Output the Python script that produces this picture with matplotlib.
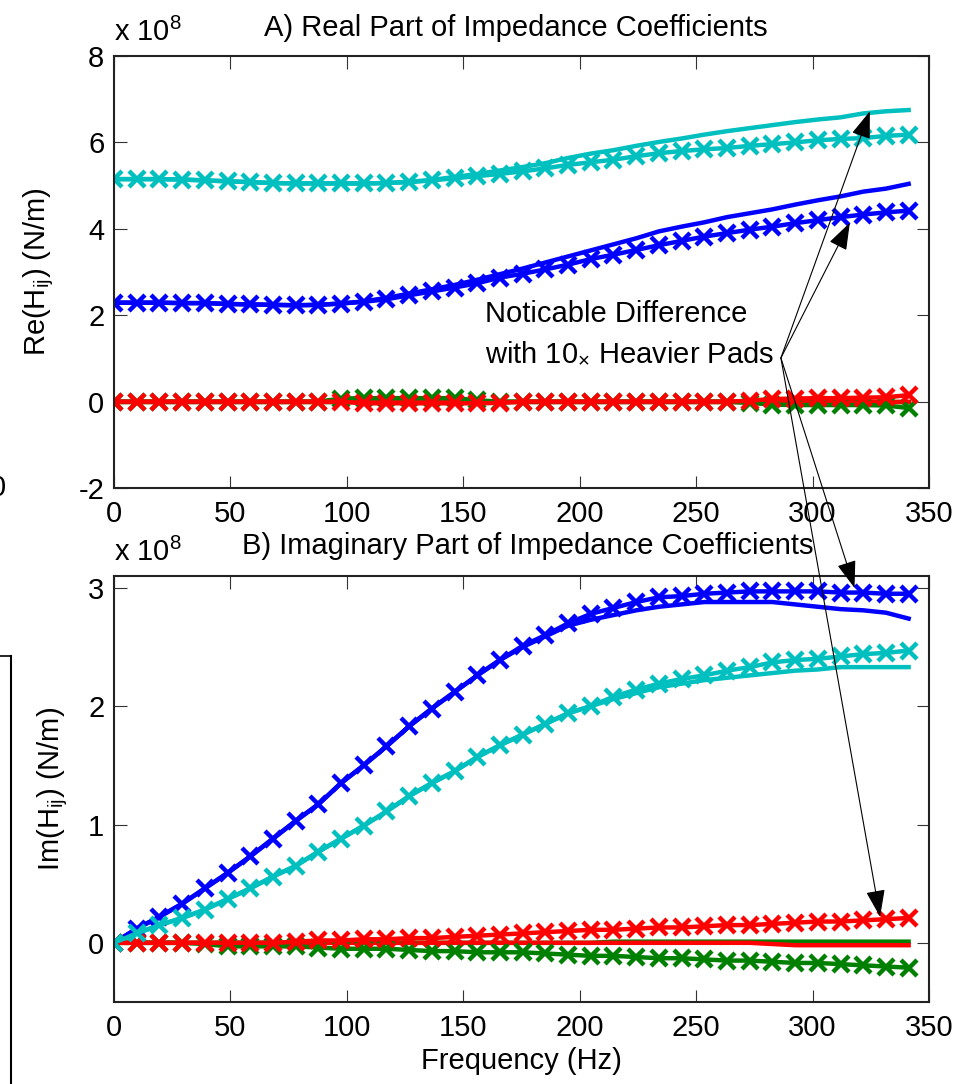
import matplotlib
matplotlib.use("Agg")
import matplotlib.pyplot as plt
from matplotlib.patches import ConnectionPatch
from matplotlib.lines import Line2D

plt.rcParams['font.family'] = ['Liberation Sans', 'DejaVu Sans']
plt.rcParams['mathtext.fontset'] = 'custom'
plt.rcParams['mathtext.rm'] = 'Liberation Sans'
plt.rcParams['mathtext.it'] = 'Liberation Sans'
plt.rcParams['axes.unicode_minus'] = False

# Frequency grid (Hz)
freq = [0, 9.75, 19.5, 29.25, 39, 48.75, 58.5, 68.25, 78, 87.75, 97.5, 107.25,
        117, 126.75, 136.5, 146.25, 156, 165.75, 175.5, 185.25, 195, 204.75,
        214.5, 224.25, 234, 243.75, 253.5, 263.25, 273, 282.75, 292.5, 302.25,
        312, 321.75, 331.5, 341.25]

# Real part (x 1e8 N/m) - baseline pads (solid)
re_blue = [2.29, 2.29, 2.29, 2.28, 2.28, 2.26, 2.25, 2.24, 2.23, 2.24, 2.27, 2.32,
           2.40, 2.50, 2.60, 2.70, 2.82, 2.95, 3.08, 3.22, 3.36, 3.50, 3.64, 3.78,
           3.94, 4.05, 4.15, 4.27, 4.36, 4.45, 4.56, 4.66, 4.75, 4.86, 4.93, 5.04]
re_green = [0.0] * 36
re_red = [0.0] * 36
re_cyan = [5.15, 5.15, 5.15, 5.14, 5.12, 5.10, 5.08, 5.06, 5.05, 5.05, 5.05, 5.05,
           5.06, 5.09, 5.13, 5.20, 5.27, 5.35, 5.43, 5.52, 5.64, 5.74, 5.82, 5.92,
           6.01, 6.09, 6.18, 6.26, 6.33, 6.40, 6.47, 6.53, 6.58, 6.67, 6.72, 6.75]

# Real part - 10x heavier pads (marked)
re_blue_h = [2.29, 2.29, 2.29, 2.28, 2.28, 2.26, 2.25, 2.24, 2.23, 2.24, 2.27, 2.31,
             2.37, 2.46, 2.55, 2.64, 2.74, 2.87, 2.96, 3.06, 3.17, 3.30, 3.40, 3.51,
             3.62, 3.72, 3.82, 3.90, 3.98, 4.05, 4.13, 4.20, 4.27, 4.33, 4.38, 4.42]
re_green_h = [0, 0, 0, 0, 0, 0, 0, 0, 0, 0, 0.07, 0.08,
              0.08, 0.08, 0.08, 0.08, 0.03, 0, 0, 0, 0, 0, 0, 0,
              0, 0, 0, 0, -0.03, -0.07, -0.08, -0.08, -0.08, -0.08, -0.09, -0.15]
re_red_h = [0, 0, 0, 0, 0, 0, 0, 0, 0, 0, 0, -0.04,
            -0.04, -0.04, -0.04, -0.04, -0.04, -0.03, 0, 0, 0, 0, 0, 0,
            0, 0, 0, 0, 0.02, 0.06, 0.07, 0.08, 0.08, 0.09, 0.10, 0.15]
re_cyan_h = [5.15, 5.15, 5.15, 5.14, 5.12, 5.10, 5.08, 5.06, 5.05, 5.05, 5.05, 5.05,
             5.06, 5.08, 5.12, 5.17, 5.22, 5.27, 5.33, 5.40, 5.48, 5.54, 5.60, 5.68,
             5.75, 5.80, 5.84, 5.87, 5.92, 5.96, 6.00, 6.05, 6.08, 6.10, 6.15, 6.18]

# Imaginary part (x 1e8 N/m) - baseline pads (solid)
im_blue = [0, 0.12, 0.22, 0.33, 0.46, 0.59, 0.73, 0.88, 1.03, 1.17, 1.35, 1.50,
           1.66, 1.83, 1.98, 2.12, 2.26, 2.39, 2.50, 2.59, 2.68, 2.73, 2.77, 2.81,
           2.84, 2.86, 2.88, 2.88, 2.88, 2.88, 2.86, 2.84, 2.82, 2.81, 2.79, 2.74]
im_green = [0] * 22 + [0.01] * 14
im_red = [0] * 29 + [-0.01] + [-0.02] * 6
im_cyan = [0, 0.08, 0.15, 0.21, 0.28, 0.37, 0.46, 0.56, 0.65, 0.77, 0.88, 0.99,
           1.11, 1.24, 1.35, 1.45, 1.57, 1.67, 1.76, 1.85, 1.94, 2.00, 2.06, 2.11,
           2.16, 2.19, 2.22, 2.24, 2.26, 2.28, 2.30, 2.31, 2.33, 2.33, 2.33, 2.33]

# Imaginary part - 10x heavier pads (marked)
im_blue_h = [0, 0.12, 0.22, 0.33, 0.46, 0.59, 0.73, 0.88, 1.03, 1.17, 1.35, 1.50,
             1.66, 1.83, 1.98, 2.12, 2.26, 2.39, 2.51, 2.60, 2.70, 2.78, 2.83, 2.88,
             2.92, 2.93, 2.95, 2.96, 2.97, 2.97, 2.97, 2.97, 2.96, 2.96, 2.95, 2.95]
im_green_h = [0, 0, 0, 0, -0.01, -0.03, -0.03, -0.03, -0.03, -0.04, -0.05, -0.05,
              -0.05, -0.06, -0.07, -0.07, -0.08, -0.08, -0.08, -0.09, -0.10, -0.11,
              -0.11, -0.12, -0.13, -0.13, -0.14, -0.15, -0.15, -0.16, -0.17, -0.17,
              -0.18, -0.19, -0.20, -0.21]
im_red_h = [0, 0, 0, 0, 0, 0, 0, 0, 0.01, 0.02, 0.02, 0.03,
            0.03, 0.04, 0.04, 0.05, 0.06, 0.07, 0.08, 0.09, 0.10, 0.11, 0.11, 0.12,
            0.13, 0.13, 0.14, 0.15, 0.15, 0.16, 0.17, 0.18, 0.18, 0.19, 0.20, 0.21]
im_cyan_h = [0, 0.08, 0.15, 0.21, 0.28, 0.37, 0.46, 0.56, 0.65, 0.77, 0.88, 0.99,
             1.11, 1.24, 1.35, 1.45, 1.57, 1.67, 1.76, 1.85, 1.94, 2.00, 2.08, 2.14,
             2.19, 2.23, 2.26, 2.30, 2.33, 2.37, 2.39, 2.40, 2.42, 2.44, 2.45, 2.47]

BLUE = (0, 0, 1)
GREEN = (0, 0.5, 0)
RED = (1, 0, 0)
CYAN = (0, 0.75, 0.75)

W, H = 957, 1084
fig = plt.figure(figsize=(W / 100, H / 100), dpi=100)


def box(l, t, r, b):
    return [l / W, 1 - b / H, (r - l) / W, (b - t) / H]


def fx(px):
    return px / W


def fy(py):
    return 1 - py / H


ax1 = fig.add_axes(box(114, 56, 929, 488))
ax2 = fig.add_axes(box(114, 576, 929, 1002))

FS = 21
LW = 3.2


def draw(ax, solid, marked):
    for y, c in zip(solid, [BLUE, GREEN, RED, CYAN]):
        ax.plot(freq, y, '-', color=c, lw=LW)
    for y, c in zip(marked, [BLUE, GREEN, RED, CYAN]):
        ax.plot(freq, y, '-x', color=c, lw=LW, ms=11, mew=3.2)


draw(ax1, [re_blue, re_green, re_red, re_cyan],
     [re_blue_h, re_green_h, re_red_h, re_cyan_h])
draw(ax2, [im_blue, im_green, im_red, im_cyan],
     [im_blue_h, im_green_h, im_red_h, im_cyan_h])

ax1.set_xlim(0, 350)
ax1.set_ylim(-2, 8)
ax1.set_yticks([-2, 0, 2, 4, 6, 8])
ax2.set_xlim(0, 350)
ax2.set_ylim(-0.5, 3.1)
ax2.set_yticks([0, 1, 2, 3])

for ax in (ax1, ax2):
    ax.set_xticks([0, 50, 100, 150, 200, 250, 300, 350])
    ax.tick_params(direction='in', length=9, width=0.8, top=True, right=True,
                   labelsize=FS, color='#333333')
    ax.tick_params(axis='x', pad=9)
    ax.tick_params(axis='y', pad=7)
    for s in ax.spines.values():
        s.set_linewidth(1.5)
        s.set_color('#222222')

ax1.set_ylabel('Re(H$_{ij}$) (N/m)', fontsize=FS)
ax1.yaxis.set_label_coords(-0.071, 0.5)
ax2.set_ylabel('Im(H$_{ij}$) (N/m)', fontsize=FS)
ax2.yaxis.set_label_coords(-0.054, 0.5)
ax2.set_xlabel('Frequency (Hz)', fontsize=FS)
ax2.xaxis.set_label_coords(0.5, -0.105)

# Panel titles
fig.text(fx(516), fy(28), 'A) Real Part of Impedance Coefficients',
         fontsize=FS, ha='center', va='center')
fig.text(fx(528), fy(546), 'B) Imaginary Part of Impedance Coefficients',
         fontsize=FS, ha='center', va='center')

# Exponent labels in the upper-left corner of each panel
fig.text(fx(114), fy(41), 'x 10$^{8}$', fontsize=FS, ha='left', va='baseline')
fig.text(fx(114), fy(561), 'x 10$^{8}$', fontsize=FS, ha='left', va='baseline')

# Annotation text
ax1.text(159.3, 1.84, 'Noticable Difference', fontsize=FS,
         ha='left', va='baseline')
ax1.text(159.3, 0.92, 'with 10$_{\\times}$ Heavier Pads', fontsize=FS,
         ha='left', va='baseline')

# Arrows from the annotation to the deviating curves
start = (286.4, 1.01)
targets = [(ax1, (324.6, 6.72)), (ax1, (316.0, 4.14)),
           (ax2, (318.0, 3.00)), (ax2, (329.0, 0.22))]
for ax, xy in targets:
    cp = ConnectionPatch(xyA=start, coordsA=ax1.transData, xyB=xy,
                         coordsB=ax.transData,
                         arrowstyle='-|>,head_length=0.85,head_width=0.3',
                         mutation_scale=20, lw=0.8, color='k', fc='k',
                         shrinkA=0, shrinkB=0)
    fig.add_artist(cp)

# Edge of the neighbouring panel on the left
fig.text(fx(6), fy(488), '0', fontsize=FS, ha='right', va='center')
fig.add_artist(Line2D([0, fx(11)], [fy(656), fy(656)], color='k', lw=1.2))
fig.add_artist(Line2D([fx(11), fx(11)], [fy(656), 0], color='k', lw=1.5))

fig.savefig('out.png', dpi=100)
